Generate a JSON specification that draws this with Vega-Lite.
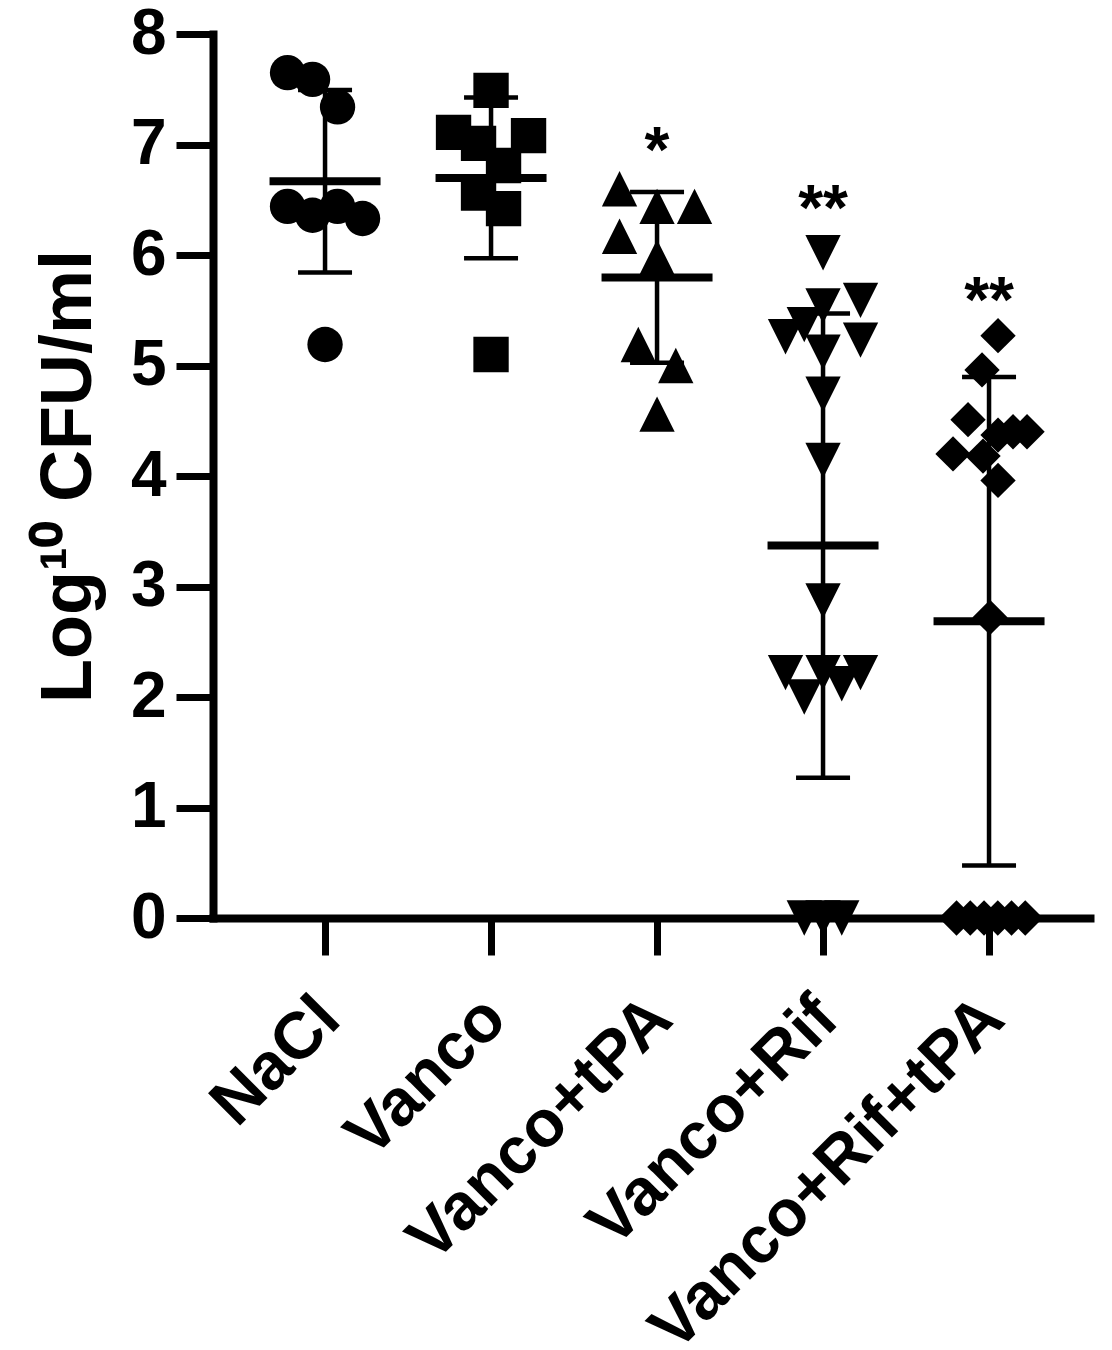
{
  "$schema": "https://vega.github.io/schema/vega-lite/v6.json",
  "width": 877,
  "height": 884,
  "autosize": {"type": "none"},
  "padding": {"left": 213, "top": 34, "right": 22, "bottom": 432},
  "background": "white",
  "config": {"view": {"stroke": null}, "font": "Liberation Sans"},
  "datasets": {
    "pts": [
      {"g": "NaCl", "v": 7.65, "j": -1.5},
      {"g": "NaCl", "v": 7.59, "j": -0.5},
      {"g": "NaCl", "v": 7.34, "j": 0.5},
      {"g": "NaCl", "v": 6.44, "j": -1.5},
      {"g": "NaCl", "v": 6.36, "j": -0.5},
      {"g": "NaCl", "v": 6.44, "j": 0.5},
      {"g": "NaCl", "v": 6.33, "j": 1.5},
      {"g": "NaCl", "v": 5.19, "j": 0},
      {"g": "Vanco", "v": 7.49, "j": 0},
      {"g": "Vanco", "v": 7.11, "j": -1.5},
      {"g": "Vanco", "v": 7.01, "j": -0.5},
      {"g": "Vanco", "v": 7.08, "j": 1.5},
      {"g": "Vanco", "v": 6.81, "j": 0.5},
      {"g": "Vanco", "v": 6.56, "j": -0.5},
      {"g": "Vanco", "v": 6.42, "j": 0.5},
      {"g": "Vanco", "v": 5.10, "j": 0},
      {"g": "Vanco+tPA", "v": 6.60, "j": -1.5},
      {"g": "Vanco+tPA", "v": 6.44, "j": 0},
      {"g": "Vanco+tPA", "v": 6.44, "j": 1.5},
      {"g": "Vanco+tPA", "v": 6.17, "j": -1.5},
      {"g": "Vanco+tPA", "v": 5.98, "j": 0},
      {"g": "Vanco+tPA", "v": 5.19, "j": -0.75},
      {"g": "Vanco+tPA", "v": 5.00, "j": 0.75},
      {"g": "Vanco+tPA", "v": 4.56, "j": 0},
      {"g": "Vanco+Rif", "v": 6.02, "j": 0},
      {"g": "Vanco+Rif", "v": 5.59, "j": 1.5},
      {"g": "Vanco+Rif", "v": 5.54, "j": 0},
      {"g": "Vanco+Rif", "v": 5.37, "j": -0.75},
      {"g": "Vanco+Rif", "v": 5.26, "j": -1.5},
      {"g": "Vanco+Rif", "v": 5.23, "j": 1.5},
      {"g": "Vanco+Rif", "v": 5.12, "j": 0},
      {"g": "Vanco+Rif", "v": 4.74, "j": 0},
      {"g": "Vanco+Rif", "v": 4.14, "j": 0},
      {"g": "Vanco+Rif", "v": 2.87, "j": 0},
      {"g": "Vanco+Rif", "v": 2.22, "j": -1.5},
      {"g": "Vanco+Rif", "v": 2.22, "j": 0},
      {"g": "Vanco+Rif", "v": 2.22, "j": 1.5},
      {"g": "Vanco+Rif", "v": 2.00, "j": -0.75},
      {"g": "Vanco+Rif", "v": 2.12, "j": 0.75},
      {"g": "Vanco+Rif", "v": 0, "j": -0.75},
      {"g": "Vanco+Rif", "v": 0, "j": 0},
      {"g": "Vanco+Rif", "v": 0, "j": 0.75},
      {"g": "Vanco+Rif+tPA", "v": 5.27, "j": 0.36},
      {"g": "Vanco+Rif+tPA", "v": 4.96, "j": -0.28},
      {"g": "Vanco+Rif+tPA", "v": 4.51, "j": -0.84},
      {"g": "Vanco+Rif+tPA", "v": 4.37, "j": 0.36},
      {"g": "Vanco+Rif+tPA", "v": 4.40, "j": 0.96},
      {"g": "Vanco+Rif+tPA", "v": 4.40, "j": 1.52},
      {"g": "Vanco+Rif+tPA", "v": 4.20, "j": -1.44},
      {"g": "Vanco+Rif+tPA", "v": 4.18, "j": -0.24},
      {"g": "Vanco+Rif+tPA", "v": 3.96, "j": 0.36},
      {"g": "Vanco+Rif+tPA", "v": 2.72, "j": 0.04},
      {"g": "Vanco+Rif+tPA", "v": 0, "j": -1.3},
      {"g": "Vanco+Rif+tPA", "v": 0, "j": -0.75},
      {"g": "Vanco+Rif+tPA", "v": 0, "j": -0.2},
      {"g": "Vanco+Rif+tPA", "v": 0, "j": 0.35},
      {"g": "Vanco+Rif+tPA", "v": 0, "j": 0.9},
      {"g": "Vanco+Rif+tPA", "v": 0, "j": 1.45}
    ],
    "ann": [
      {"g": "Vanco+tPA", "label": "*", "v": 6.75},
      {"g": "Vanco+Rif", "label": "**", "v": 6.23},
      {"g": "Vanco+Rif+tPA", "label": "**", "v": 5.39}
    ]
  },
  "encoding": {
    "x": {
      "field": "g",
      "type": "nominal",
      "scale": {"type": "point", "domain": ["NaCl", "Vanco", "Vanco+tPA", "Vanco+Rif", "Vanco+Rif+tPA"], "padding": 0.6416, "align": 0.526},
      "axis": {
        "title": null,
        "domainColor": "black",
        "domainWidth": 8,
        "domainCap": "square",
        "tickColor": "black",
        "tickWidth": 7,
        "tickSize": 37,
        "labelAngle": -45,
        "labelAlign": "right",
        "labelBaseline": "top",
        "labelPadding": 30,
        "labelOffset": -19,
        "labelFont": "Liberation Sans",
        "labelFontSize": 66,
        "labelFontWeight": "bold",
        "labelColor": "black",
        "labelOverlap": false,
        "labelLimit": 0,
        "grid": false
      }
    },
    "y": {
      "field": "v",
      "type": "quantitative",
      "scale": {"domain": [0, 8], "nice": false, "zero": false},
      "axis": {
        "title": "Log¹⁰ CFU/ml",
        "values": [0, 1, 2, 3, 4, 5, 6, 7, 8],
        "domainColor": "black",
        "domainWidth": 8,
        "domainCap": "square",
        "tickColor": "black",
        "tickWidth": 7,
        "tickSize": 37,
        "labelFont": "Liberation Sans",
        "labelFontSize": 64,
        "labelFontWeight": "bold",
        "labelColor": "black",
        "labelPadding": 10,
        "labelFlush": false,
        "labelOverlap": false,
        "titleFont": "Liberation Sans",
        "titleFontSize": 72,
        "titleFontWeight": "bold",
        "titleColor": "black",
        "titlePadding": 25,
        "grid": false
      }
    }
  },
  "layer": [
    {
      "data": {"name": "pts"},
      "mark": {
        "type": "errorbar",
        "extent": "stdev",
        "size": 54,
        "thickness": 4.5,
        "color": "black",
        "ticks": {"color": "black", "opacity": 1},
        "rule": {"color": "black", "opacity": 1}
      }
    },
    {
      "data": {"name": "pts"},
      "mark": {"type": "tick", "size": 111, "thickness": 8, "color": "black", "opacity": 1},
      "encoding": {
        "y": {"aggregate": "mean", "field": "v", "type": "quantitative"}
      }
    },
    {
      "data": {"name": "pts"},
      "mark": {"type": "point", "filled": true, "color": "black", "opacity": 1, "size": 1250, "strokeWidth": 0},
      "encoding": {
        "xOffset": {"field": "j", "type": "quantitative", "scale": {"domain": [-1, 1], "range": [-25, 25]}},
        "shape": {
          "field": "g",
          "type": "nominal",
          "scale": {
            "domain": ["NaCl", "Vanco", "Vanco+tPA", "Vanco+Rif", "Vanco+Rif+tPA"],
            "range": ["circle", "square", "M-1,1L0,-1L1,1Z", "M-1,-1L1,-1L0,1Z", "diamond"]
          },
          "legend": null
        }
      }
    },
    {
      "data": {"name": "ann"},
      "mark": {"type": "text", "font": "Liberation Sans", "fontSize": 64, "fontWeight": "bold", "color": "black", "align": "center", "baseline": "alphabetic"},
      "encoding": {
        "text": {"field": "label", "type": "nominal"}
      }
    }
  ]
}
